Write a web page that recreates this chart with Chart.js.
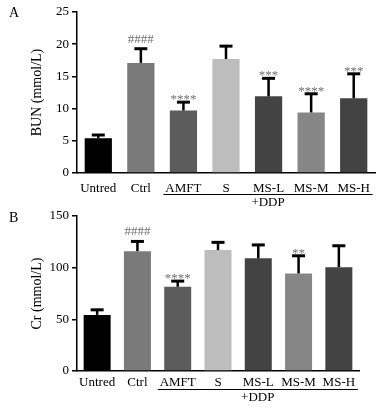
<!DOCTYPE html>
<html>
<head>
<meta charset="utf-8">
<script src="https://cdn.jsdelivr.net/npm/chart.js@4"></script>
<style>
  body { margin: 0; background: #fff; }
  #wrap { position: relative; width: 384px; height: 407px; overflow: hidden; }
  canvas { position: absolute; left: 0; }
  #chartA { top: 0; }
  #chartB { top: 200px; }
</style>
</head>
<body>
<div id="wrap">
  <canvas id="chartA" width="384" height="210"></canvas>
  <canvas id="chartB" width="384" height="207"></canvas>
</div>
<script>
// groups on the x axis
const categories = ['Untred', 'Ctrl', 'AMFT', 'S', 'MS-L', 'MS-M', 'MS-H'];
const barColors = ['#000000', '#7a7a7a', '#5c5c5c', '#bdbdbd', '#434343', '#868686', '#434343'];

// panel A: BUN
const bunMean = [5.4, 17.1, 9.7, 17.7, 11.9, 9.4, 11.6];
const bunSd = [0.5, 2.2, 1.3, 2.0, 2.8, 2.9, 3.8];
const bunMarks = ['', '####', '****', '', '***', '****', '***'];
const bunTicks = [0, 5, 10, 15, 20, 25];

// panel B: Cr
const crMean = [54.3, 116, 81.5, 117, 109, 94.4, 100.5];
const crSd = [4.9, 9.4, 5.5, 7.5, 13, 17.1, 20.7];
const crMarks = ['', '####', '****', '', '', '**', ''];
const crTicks = [0, 50, 100, 150];

const serif = '"Liberation Serif", "DejaVu Serif", serif';

// error bars, significance marks, +DDP bracket, panel letter
const extras = {
  id: 'extras',
  afterDatasetsDraw(chart, args, opts) {
    const ctx = chart.ctx;
    const meta = chart.getDatasetMeta(0);
    const x = chart.scales.x, y = chart.scales.y;
    ctx.save();
    meta.data.forEach((bar, i) => {
      const top = y.getPixelForValue(opts.mean[i] + opts.sd[i]);
      const base = y.getPixelForValue(opts.mean[i]);
      ctx.strokeStyle = '#000';
      ctx.lineWidth = 2.5;
      ctx.beginPath();
      ctx.moveTo(bar.x, base);
      ctx.lineTo(bar.x, top);
      ctx.stroke();
      ctx.lineWidth = 3;
      ctx.beginPath();
      ctx.moveTo(bar.x - 6.5, top);
      ctx.lineTo(bar.x + 6.5, top);
      ctx.stroke();
      const m = opts.marks[i];
      if (m) {
        ctx.fillStyle = '#707070';
        ctx.textAlign = 'center';
        ctx.textBaseline = 'alphabetic';
        ctx.font = '13px ' + serif;
        ctx.fillText(m, bar.x, m[0] == '#' ? top - 6 : top + 1);
      }
    });
    // bracket under AMFT..MS-H
    const x0 = x.getPixelForValue(2) - 20;
    const x1 = x.getPixelForValue(6) + 19;
    ctx.strokeStyle = '#000';
    ctx.lineWidth = 1;
    ctx.beginPath();
    ctx.moveTo(x0, opts.lineY + 0.5);
    ctx.lineTo(x1, opts.lineY + 0.5);
    ctx.stroke();
    ctx.fillStyle = '#000';
    ctx.font = '13px ' + serif;
    ctx.textAlign = 'center';
    ctx.textBaseline = 'middle';
    ctx.fillText('+DDP', (x0 + x1) / 2, opts.lineY + 9);
    // panel letter
    ctx.textAlign = 'left';
    ctx.font = '14px ' + serif;
    ctx.fillText(opts.letter, 9, opts.letterY);
    ctx.restore();
  }
};

function makeChart(id, mean, sd, marks, ticks, title, pad, xHeight, xPad, barPct, lineY, letter, letterY) {
  return new Chart(document.getElementById(id), {
    type: 'bar',
    data: {
      labels: categories,
      datasets: [{
        data: mean,
        backgroundColor: barColors,
        barPercentage: barPct,
        categoryPercentage: 1
      }]
    },
    options: {
      responsive: false,
      animation: false,
      layout: { padding: pad },
      plugins: {
        legend: { display: false },
        tooltip: { enabled: false },
        extras: { mean: mean, sd: sd, marks: marks, lineY: lineY, letter: letter, letterY: letterY }
      },
      scales: {
        x: {
          grid: { display: false, drawTicks: false },
          border: { display: true, color: '#000', width: 1.5 },
          ticks: { color: '#000', font: { family: serif, size: 13 }, padding: xPad, maxRotation: 0, autoSkip: false },
          afterFit: s => { s.height = xHeight; }
        },
        y: {
          min: ticks[0],
          max: ticks[ticks.length - 1],
          afterBuildTicks: s => { s.ticks = ticks.map(v => ({ value: v })); },
          grid: { display: true, drawOnChartArea: false, drawTicks: true, tickLength: 5, color: '#000', lineWidth: 1.5 },
          border: { display: true, color: '#000', width: 1.5 },
          ticks: { color: '#000', font: { family: serif, size: 13 }, padding: 3 },
          title: { display: true, text: title, color: '#000', font: { family: serif, size: 14 }, padding: { top: 29, bottom: 0 } },
          afterFit: s => { s.width = 77; }
        }
      }
    },
    plugins: [extras]
  });
}

makeChart('chartA', bunMean, bunSd, bunMarks, bunTicks, 'BUN (mmol/L)',
  { top: 12, right: 9, left: 0, bottom: 0 }, 37, 8, 0.64, 194, 'A', 13);
makeChart('chartB', crMean, crSd, crMarks, crTicks, 'Cr (mmol/L)',
  { top: 16, right: 25, left: 0, bottom: 0 }, 36, 4, 0.67, 189, 'B', 18);
</script>
</body>
</html>
